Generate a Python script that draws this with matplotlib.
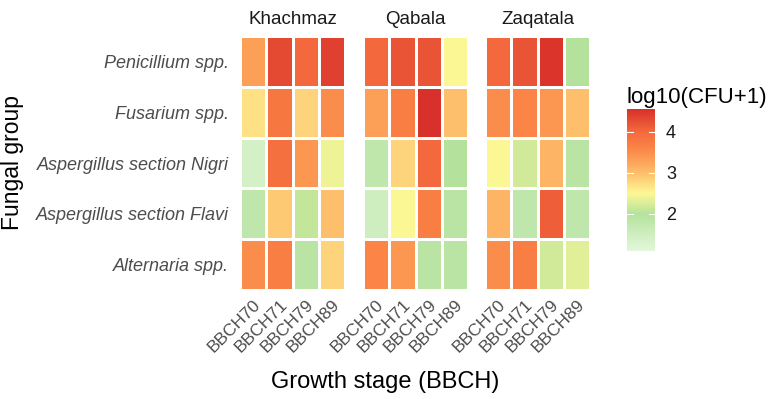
import numpy as np
import matplotlib.pyplot as plt
from matplotlib.colors import LinearSegmentedColormap, Normalize

plt.rcParams['font.family'] = ['Liberation Sans', 'DejaVu Sans']

regions = ["Khachmaz", "Qabala", "Zaqatala"]
stages = ["BBCH70", "BBCH71", "BBCH79", "BBCH89"]
groups = ["Penicillium spp.", "Fusarium spp.", "Aspergillus section Nigri",
          "Aspergillus section Flavi", "Alternaria spp."]

# rows = groups (top to bottom), cols = stages
khachmaz = [[3.3, 4.3, 4.0, 4.4],
            [2.7, 3.8, 2.8, 3.5],
            [1.4, 3.9, 3.4, 2.4],
            [1.8, 2.9, 2.1, 3.0],
            [3.5, 3.7, 1.9, 2.8]]
qabala = [[4.0, 4.2, 4.2, 2.5],
          [3.3, 3.7, 4.55, 3.0],
          [1.8, 2.8, 4.0, 2.0],
          [1.5, 2.5, 3.7, 1.9],
          [3.6, 3.4, 1.9, 1.9]]
zaqatala = [[4.0, 4.2, 4.5, 2.0],
            [3.5, 3.6, 3.4, 3.0],
            [2.5, 2.2, 3.1, 1.9],
            [3.1, 1.8, 4.1, 1.8],
            [3.5, 3.7, 2.2, 2.3]]
data = [khachmaz, qabala, zaqatala]

vmin, vmax = 1.1, 4.55
cmap = LinearSegmentedColormap.from_list("fungi", [
    (0.0, "#e3f7dc"), ((2.0 - vmin) / (vmax - vmin), "#b4e29c"),
    ((2.5 - vmin) / (vmax - vmin), "#fdf795"), ((3.0 - vmin) / (vmax - vmin), "#fdbe6a"),
    ((3.6 - vmin) / (vmax - vmin), "#fb8446"), ((4.0 - vmin) / (vmax - vmin), "#f36a3d"),
    (1.0, "#d8302a")])
norm = Normalize(vmin, vmax)

fig = plt.figure(figsize=(7.74, 3.99), dpi=100)
lefts = [240, 363, 485]
grey = "#4d4d4d"
for k, (name, vals) in enumerate(zip(regions, data)):
    ax = fig.add_axes([lefts[k] / 774, 1 - 290 / 399, 105 / 774, 254 / 399])
    arr = np.array(vals)
    ax.pcolormesh(np.arange(5), np.arange(6), arr, cmap=cmap, norm=norm,
                  edgecolors="white", linewidth=1.0)
    ax.set_xlim(0, 4)
    ax.set_ylim(5, 0)
    for s in ax.spines.values():
        s.set_visible(False)
    ax.set_xticks(np.arange(4) + 0.5)
    ax.set_xticklabels(stages, rotation=45, ha="right", rotation_mode="anchor",
                       fontsize=12.5, color=grey)
    ax.tick_params(length=0, pad=5)
    if k == 0:
        ax.set_yticks(np.arange(5) + 0.5)
        ax.set_yticklabels(groups, fontsize=13, color=grey, style="italic")
        ax.tick_params(axis="y", pad=8)
    else:
        ax.set_yticks([])
    ax.set_title(name, fontsize=13.5, color="#1a1a1a", pad=9)

fig.text(385 / 774, 1 - 382 / 399, "Growth stage (BBCH)",
         ha="center", va="center", fontsize=17)
fig.text(13 / 774, 1 - 163 / 399, "Fungal group", rotation=90,
         ha="center", va="center", fontsize=16.5)

cax = fig.add_axes([627 / 774, 1 - 251 / 399, 28 / 774, 142 / 399])
cb = fig.colorbar(plt.cm.ScalarMappable(norm=norm, cmap=cmap), cax=cax)
cb.outline.set_visible(False)
cb.set_ticks([2, 3, 4])
cb.ax.tick_params(length=0, labelsize=13, labelcolor="#1a1a1a", pad=8)
for t in [2, 3, 4]:
    cax.plot([0, 0.2], [t, t], color="white", lw=0.8)
    cax.plot([0.8, 1], [t, t], color="white", lw=0.8)
fig.text(627 / 774, 1 - 97 / 399, "log10(CFU+1)", ha="left", va="center",
         fontsize=16)

fig.savefig("out.png", dpi=100)
